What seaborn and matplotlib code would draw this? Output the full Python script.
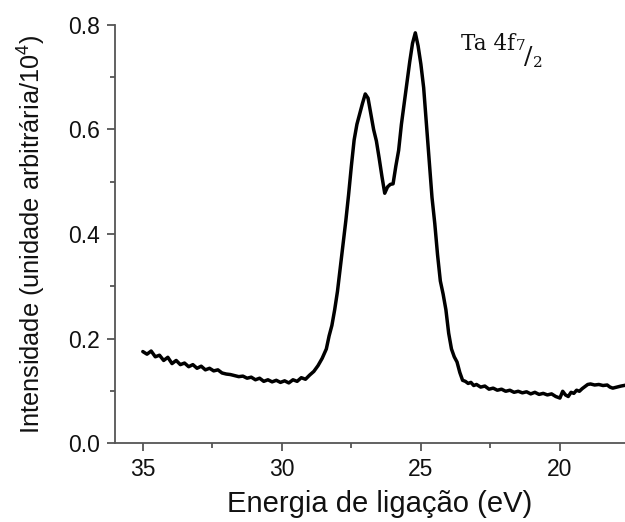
import matplotlib
matplotlib.use("Agg")
import matplotlib.pyplot as plt
from matplotlib.ticker import MultipleLocator, FormatStrFormatter
from matplotlib.transforms import IdentityTransform
import seaborn as sns
import pandas as pd

# binding energy (eV)
energia = [
    35.0, 34.85, 34.7, 34.55, 34.4, 34.25, 34.1, 33.95, 33.8, 33.65,
    33.5, 33.35, 33.2, 33.05, 32.9, 32.75, 32.6, 32.45, 32.3, 32.15,
    32.0, 31.85, 31.7, 31.55, 31.4, 31.25, 31.1, 30.95, 30.8, 30.65,
    30.5, 30.35, 30.2, 30.05, 29.9, 29.75, 29.6, 29.45, 29.3, 29.15,
    29.0, 28.85, 28.7, 28.55, 28.4, 28.3, 28.2, 28.1, 28.0, 27.9,
    27.8, 27.7, 27.6, 27.5, 27.4, 27.3, 27.2, 27.1, 27.0, 26.9,
    26.8, 26.7, 26.6, 26.5, 26.4, 26.3, 26.2, 26.1, 26.0, 25.9,
    25.8, 25.7, 25.6, 25.5, 25.4, 25.3, 25.2, 25.1, 25.0, 24.9,
    24.8, 24.7, 24.6, 24.5, 24.4, 24.3, 24.2, 24.1, 24.0, 23.9,
    23.8, 23.7, 23.6, 23.5, 23.4, 23.3, 23.2, 23.1, 23.0, 22.85,
    22.7, 22.55, 22.4, 22.25, 22.1, 21.95, 21.8, 21.65, 21.5, 21.35,
    21.2, 21.05, 20.9, 20.75, 20.6, 20.45, 20.3, 20.15, 20.0, 19.9,
    19.8, 19.7, 19.6, 19.5, 19.4, 19.3, 19.2, 19.1, 19.0, 18.9,
    18.75, 18.6, 18.45, 18.3, 18.2, 18.1, 17.95, 17.8, 17.6,
]

# intensity (arb. units / 1e4)
intensidade = [
    0.175, 0.170, 0.176, 0.165, 0.168, 0.158, 0.164, 0.152, 0.158, 0.150,
    0.153, 0.146, 0.150, 0.143, 0.147, 0.140, 0.143, 0.138, 0.140, 0.134,
    0.132, 0.131, 0.129, 0.127, 0.128, 0.124, 0.126, 0.121, 0.124, 0.118,
    0.121, 0.117, 0.120, 0.116, 0.119, 0.115, 0.121, 0.118, 0.125, 0.122,
    0.130, 0.137, 0.148, 0.162, 0.180, 0.205, 0.225, 0.255, 0.290, 0.335,
    0.380, 0.425, 0.475, 0.530, 0.580, 0.610, 0.630, 0.650, 0.668, 0.660,
    0.630, 0.600, 0.578, 0.545, 0.510, 0.478, 0.490, 0.495, 0.496, 0.530,
    0.560, 0.610, 0.650, 0.690, 0.730, 0.765, 0.785, 0.760, 0.725, 0.680,
    0.610, 0.540, 0.470, 0.420, 0.360, 0.310, 0.285, 0.255, 0.210, 0.180,
    0.165, 0.155, 0.135, 0.120, 0.118, 0.114, 0.116, 0.110, 0.112, 0.107,
    0.109, 0.103, 0.105, 0.101, 0.103, 0.099, 0.101, 0.097, 0.099, 0.096,
    0.098, 0.094, 0.097, 0.093, 0.095, 0.092, 0.094, 0.089, 0.086, 0.099,
    0.092, 0.089, 0.097, 0.095, 0.101, 0.099, 0.104, 0.108, 0.112, 0.113,
    0.111, 0.112, 0.110, 0.111, 0.107, 0.105, 0.107, 0.109, 0.111,
]

df = pd.DataFrame({"energia": energia, "intensidade": intensidade})

sns.set_style("ticks")
plt.rcParams["font.family"] = ["Liberation Sans", "DejaVu Sans"]
plt.rcParams["mathtext.fontset"] = "custom"
plt.rcParams["mathtext.rm"] = "Liberation Sans"
plt.rcParams["text.color"] = "#111111"
plt.rcParams["axes.labelcolor"] = "#111111"

W, H = 625, 522
fig = plt.figure(figsize=(W / 100, H / 100), dpi=100)
# the original axis runs a little past the right edge of the image
ax = fig.add_axes([115 / W, (H - 443) / H, 530 / W, 418 / H])

sns.lineplot(data=df, x="energia", y="intensidade", color="black",
             linewidth=2.5, sort=False, ax=ax)

ax.set_xlim(36.0, 16.94)
ax.set_ylim(0.0, 0.8)
ax.xaxis.set_major_locator(MultipleLocator(5))
ax.xaxis.set_minor_locator(MultipleLocator(2.5))
ax.yaxis.set_major_locator(MultipleLocator(0.2))
ax.yaxis.set_minor_locator(MultipleLocator(0.1))
ax.yaxis.set_major_formatter(FormatStrFormatter("%.1f"))

for side in ["top", "right"]:
    ax.spines[side].set_visible(False)
for side in ["left", "bottom"]:
    ax.spines[side].set_color("#555555")
    ax.spines[side].set_linewidth(1.3)

ax.tick_params(which="major", length=6, width=1.3, color="#555555",
               labelcolor="#111111", labelsize=16.5, direction="out", pad=5)
ax.tick_params(which="minor", length=3.5, width=1.3, color="#555555",
               direction="out")

ax.set_xlabel("Energia de ligação (eV)", fontsize=21, labelpad=6)
ax.set_ylabel(r"Intensidade (unidade arbitrária/10$^4$)", fontsize=18.3,
              labelpad=14)

# peak label "Ta 4f 7/2" with a slanted fraction, positioned in pixels
ident = IdentityTransform()
serif = ["DejaVu Serif"]
x0, base = 461, H - 50
t = fig.text(x0, base, "Ta 4f", fontsize=15.5, family=serif,
             ha="left", va="baseline", transform=ident)
fig.canvas.draw()
x1 = t.get_window_extent().x1
fig.text(x1 + 0.5, base, "7", fontsize=11, family=serif,
         ha="left", va="baseline", transform=ident)
fig.text(x1 + 9, base - 14, "/", fontsize=18, family=serif,
         ha="left", va="baseline", transform=ident)
fig.text(x1 + 18, base - 17, "2", fontsize=11, family=serif,
         ha="left", va="baseline", transform=ident)

fig.savefig("out.png", dpi=100)
